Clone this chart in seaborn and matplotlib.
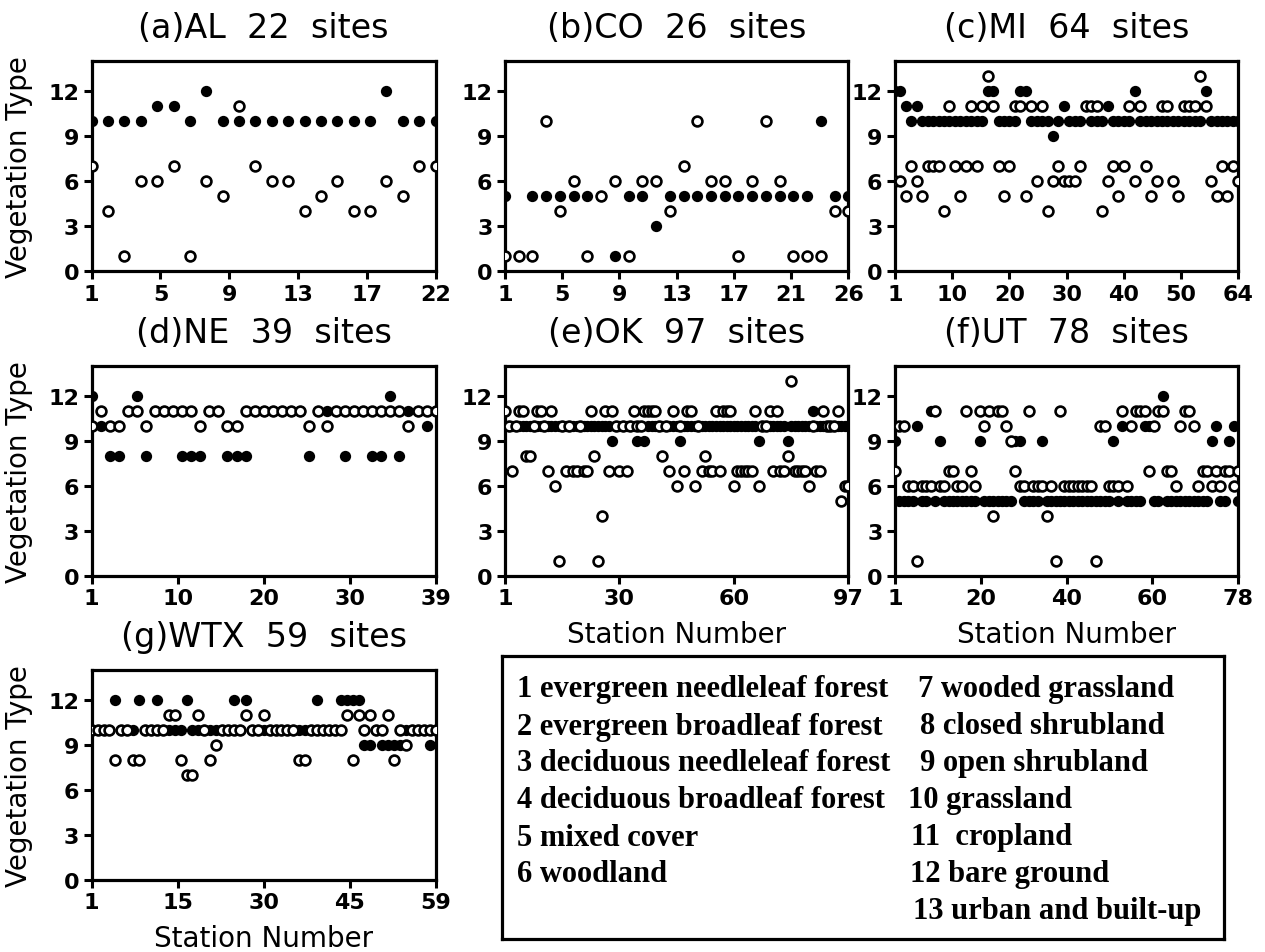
import matplotlib
matplotlib.use("Agg")
import matplotlib.pyplot as plt
import numpy as np
import seaborn as sns

# vegetation type per station: filled dots and open circles, one pair of lists per state
filled_a = [10, 10, 10, 10, 11, 11, 10, 12, 10, 10, 10, 10, 10, 10, 10, 10, 10, 10, 12, 10, 10, 10]
open_a = [7, 4, 1, 6, 6, 7, 1, 6, 5, 11, 7, 6, 6, 4, 5, 6, 4, 4, 6, 5, 7, 7]

filled_b = [5, 1, 5, 5, 5, 5, 5, 5, 1, 5, 5, 3, 5, 5, 5, 5, 5, 5, 5, 5, 5, 5, 5, 10, 5, 5]
open_b = [1, 1, 1, 10, 4, 6, 1, 5, 6, 1, 6, 6, 4, 7, 10, 6, 6, 1, 6, 10, 6, 1, 1, 1, 4, 4]

filled_c = [12, 12, 11, 10, 11, 10, 10, 10, 10, 10,
            10, 10, 10, 10, 10, 10, 10, 12, 12, 10,
            10, 10, 10, 12, 12, 10, 10, 10, 10, 9,
            10, 11, 10, 10, 10, 11, 10, 10, 10, 11,
            10, 10, 10, 10, 12, 10, 10, 10, 10, 10,
            10, 10, 10, 10, 10, 10, 10, 12, 10, 10,
            10, 10, 10, 10]
open_c = [6, 6, 5, 7, 6, 5, 7, 7, 7, 4,
          11, 7, 5, 7, 11, 7, 11, 13, 11, 7,
          5, 7, 11, 11, 5, 11, 6, 11, 4, 6,
          7, 6, 6, 6, 7, 11, 11, 11, 4, 6,
          7, 5, 7, 11, 6, 11, 7, 5, 6, 11,
          11, 6, 5, 11, 11, 11, 13, 11, 6, 5,
          7, 5, 7, 6]

filled_d = [12, 10, 8, 8, 11, 12, 8, 11, 11, 11,
            8, 8, 8, 11, 11, 8, 8, 8, 11, 11,
            11, 11, 11, 11, 8, 11, 11, 11, 8, 11,
            11, 8, 8, 12, 8, 11, 11, 10, 11]
open_d = [10, 11, 10, 10, 11, 11, 10, 11, 11, 11,
          11, 11, 10, 11, 11, 10, 10, 11, 11, 11,
          11, 11, 11, 11, 10, 11, 10, 11, 11, 11,
          11, 11, 11, 11, 11, 10, 11, 11, 11]

filled_e = [10, 10, 10, 10, 10, 10, 10, 10, 10, 10,
            10, 10, 10, 10, 10, 10, 10, 10, 10, 10,
            10, 10, 10, 10, 10, 10, 10, 10, 10, 10,
            9, 10, 10, 10, 10, 10, 10, 9, 10, 9,
            10, 10, 10, 10, 10, 10, 10, 10, 10, 9,
            10, 10, 10, 10, 10, 10, 10, 10, 10, 10,
            10, 10, 10, 10, 10, 10, 10, 10, 10, 10,
            10, 9, 10, 10, 10, 10, 10, 10, 10, 9,
            10, 10, 10, 10, 10, 10, 11, 10, 10, 10,
            10, 10, 10, 10, 10, 10, 10]
open_e = [11, 10, 7, 10, 11, 11, 8, 8, 10, 11,
          11, 10, 7, 11, 6, 1, 10, 7, 10, 7,
          7, 10, 7, 7, 11, 8, 1, 4, 11, 7,
          11, 10, 7, 10, 7, 10, 11, 10, 10, 11,
          11, 11, 11, 10, 8, 10, 7, 11, 6, 10,
          7, 11, 11, 6, 10, 7, 8, 7, 7, 11,
          7, 11, 11, 11, 6, 7, 7, 7, 7, 7,
          11, 6, 10, 10, 11, 7, 11, 7, 7, 8,
          13, 7, 7, 7, 7, 6, 10, 7, 7, 11,
          10, 10, 10, 11, 5, 6, 6]

filled_f = [9, 5, 5, 5, 5, 10, 5, 5, 11, 5,
            9, 5, 5, 5, 5, 5, 5, 5, 5, 9,
            5, 5, 5, 5, 5, 5, 5, 9, 9, 5,
            5, 5, 5, 9, 5, 5, 5, 5, 5, 5,
            5, 5, 5, 5, 5, 5, 5, 5, 5, 9,
            5, 10, 5, 5, 5, 5, 10, 10, 5, 5,
            12, 5, 5, 5, 5, 5, 5, 5, 5, 5,
            5, 9, 10, 5, 5, 9, 10, 5]
open_f = [7, 10, 10, 6, 6, 1, 6, 6, 6, 11,
          6, 6, 7, 7, 6, 6, 11, 7, 6, 11,
          10, 11, 4, 11, 11, 10, 9, 7, 6, 6,
          11, 6, 6, 6, 4, 6, 1, 11, 6, 6,
          6, 6, 6, 6, 6, 1, 10, 10, 6, 6,
          6, 11, 6, 10, 11, 11, 11, 7, 10, 11,
          11, 7, 7, 6, 10, 11, 11, 10, 6, 7,
          7, 6, 7, 6, 7, 7, 6, 7]

filled_g = [10, 10, 10, 10, 12, 10, 10, 10, 12, 10,
            10, 12, 10, 10, 10, 10, 12, 10, 10, 10,
            10, 10, 10, 10, 12, 10, 12, 10, 10, 10,
            10, 10, 10, 10, 10, 10, 10, 10, 12, 10,
            10, 10, 12, 12, 12, 12, 9, 9, 10, 9,
            9, 9, 9, 10, 10, 10, 10, 9, 10]
open_g = [10, 10, 10, 10, 8, 10, 10, 8, 8, 10,
          10, 10, 10, 11, 11, 8, 7, 7, 11, 10,
          8, 9, 10, 10, 10, 10, 11, 10, 10, 11,
          10, 10, 10, 10, 10, 8, 8, 10, 10, 10,
          10, 10, 10, 11, 8, 11, 10, 11, 10, 10,
          11, 8, 10, 9, 10, 10, 10, 10, 10]

names = ["(a)AL", "(b)CO", "(c)MI", "(d)NE", "(e)OK", "(f)UT", "(g)WTX"]
xlabels = [["1", "5", "9", "13", "17", "22"],
           ["1", "5", "9", "13", "17", "21", "26"],
           ["1", "10", "20", "30", "40", "50", "64"],
           ["1", "10", "20", "30", "39"],
           ["1", "30", "60", "97"],
           ["1", "20", "40", "60", "78"],
           ["1", "15", "30", "45", "59"]]
yticks = [0, 3, 6, 9, 12]

legend_left = ["1 evergreen needleleaf forest", "2 evergreen broadleaf forest",
               "3 deciduous needleleaf forest", "4 deciduous broadleaf forest",
               "5 mixed cover", "6 woodland"]
legend_right = ["7 wooded grassland", "8 closed shrubland", "9 open shrubland",
                "10 grassland", "11  cropland", "12 bare ground", "13 urban and built-up"]

filled_all = [filled_a, filled_b, filled_c, filled_d, filled_e, filled_f, filled_g]
open_all = [open_a, open_b, open_c, open_d, open_e, open_f, open_g]

sns.set_theme(style="ticks")
plt.rcParams["font.family"] = ["DejaVu Sans"]
plt.rcParams["text.color"] = "black"
plt.rcParams["axes.labelcolor"] = "black"
plt.rcParams["xtick.color"] = "black"
plt.rcParams["ytick.color"] = "black"

W, H = 1265, 953
fig = plt.figure(figsize=(W / 100, H / 100), dpi=100)

# axes boxes in pixels (left, top, right, bottom)
col_x = [(91.7, 435.6), (505, 848.3), (895, 1238.3)]
row_y = [(62, 272.3), (366.7, 576.7), (670.7, 880.7)]
cells = [(0, 0), (0, 1), (0, 2), (1, 0), (1, 1), (1, 2), (2, 0)]

for i in range(7):
    r, c = cells[i]
    x0, x1 = col_x[c]
    y0, y1 = row_y[r]
    ax = fig.add_axes([x0 / W, 1 - y1 / H, (x1 - x0) / W, (y1 - y0) / H])
    n = len(filled_all[i])
    sites = np.arange(1, n + 1)

    sns.scatterplot(x=sites, y=filled_all[i], ax=ax, color="black", s=66,
                    edgecolor="black", linewidth=0, zorder=3)
    sns.scatterplot(x=sites, y=open_all[i], ax=ax, color="white", s=50,
                    edgecolor="black", linewidth=1.9, zorder=4)

    ax.set_xlim(1, n)
    ax.set_ylim(0, 14)
    ax.set_xticks(np.linspace(1, n, len(xlabels[i])))
    ax.set_xticklabels(xlabels[i], fontsize=16, fontweight="bold")
    ax.set_yticks(yticks)
    ax.set_yticklabels([str(v) for v in yticks], fontsize=16, fontweight="bold")
    ax.tick_params(direction="out", length=6, width=2.2, pad=3, colors="black")
    for sp in ax.spines.values():
        sp.set_visible(True)
        sp.set_linewidth(2.3)
        sp.set_color("black")

    ax.set_title(f"{names[i]}  {n}  sites", fontsize=24, pad=17, color="black")
    if c == 0:
        ax.set_ylabel("Vegetation Type", fontsize=20)
        ax.yaxis.set_label_coords(-0.17, 0.5)
    if i >= 4:
        ax.set_xlabel("Station Number", fontsize=20, va="top")
        ax.xaxis.set_label_coords(0.5, -0.21)

# vegetation class key
lx0, ly0, lx1, ly1 = 502, 657, 1224, 940
lax = fig.add_axes([lx0 / W, 1 - ly1 / H, (lx1 - lx0) / W, (ly1 - ly0) / H])
lax.set_xticks([])
lax.set_yticks([])
for sp in lax.spines.values():
    sp.set_visible(True)
    sp.set_linewidth(2.3)
    sp.set_color("black")

serif = dict(family="Liberation Serif", fontweight="bold", fontsize=22, va="center")
right_x = [918, 920, 920, 908, 911, 910, 913]
for k, txt in enumerate(legend_left):
    fig.text(517 / W, 1 - (690 + 37 * k) / H, txt, **serif)
for k, txt in enumerate(legend_right):
    fig.text(right_x[k] / W, 1 - (690 + 37 * k) / H, txt, **serif)

fig.savefig("out.png", dpi=100, facecolor="white")
